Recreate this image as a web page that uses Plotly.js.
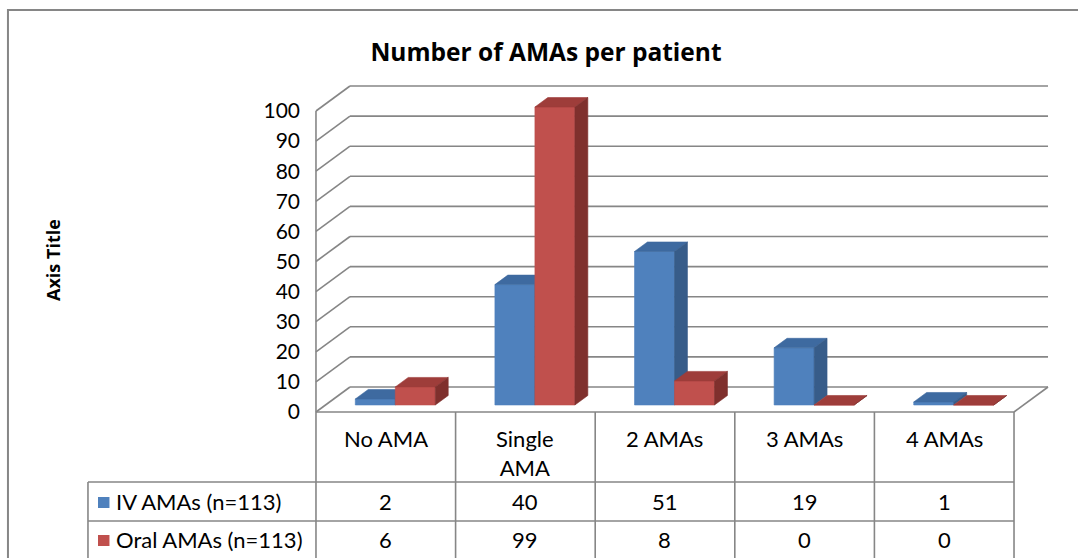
<!DOCTYPE html>
<html>
<head>
<meta charset="utf-8">
<script src="https://cdn.plot.ly/plotly-3.0.1.min.js"></script>
<style>
  html, body { margin: 0; padding: 0; background: #ffffff; }
  #chart { width: 1078px; height: 558px; }
</style>
</head>
<body>
<div id="chart"></div>
<script>
// ---------------- data ----------------
const categories = ['No AMA', 'Single AMA', '2 AMAs', '3 AMAs', '4 AMAs'];
const categoryLabels = ['No AMA', 'Single<br>AMA', '2 AMAs', '3 AMAs', '4 AMAs'];
const seriesNames = ['IV AMAs (n=113)', 'Oral AMAs (n=113)'];
const ivValues = [2, 40, 51, 19, 1];
const oralValues = [6, 99, 8, 0, 0];
const yTickValues = [0, 10, 20, 30, 40, 50, 60, 70, 80, 90, 100];
const chartTitle = 'Number of AMAs per patient';
const yAxisTitle = 'Axis Title';

// ---------------- style / geometry ----------------
const W = 1078, H = 558;
const FONT = 'Lato, "Open Sans", sans-serif';
const BOLD_FONT = '"Open Sans", Lato, sans-serif';
const GRID = '#868686';
const PXU_X = 139.6;          // px per category unit
const PXU_Y = 3.01;           // px per value unit
const DX = 34 / PXU_X;        // depth offset (x units)
const DY = 25 / PXU_Y;        // depth offset (y units)
const XMIN = -0.05, XMAX = categories.length + DX + 0.05;
const YMIN = -1, YMAX = 100 + DY + 1;
const FRONT_LEFT_PX = 316, FRONT_ZERO_PX = 412;
const mL = FRONT_LEFT_PX + XMIN * PXU_X;
const plotW = (XMAX - XMIN) * PXU_X;
const mR = W - mL - plotW;
const plotBottomPx = FRONT_ZERO_PX - YMIN * PXU_Y;
const mB = H - plotBottomPx;
const plotH = (YMAX - YMIN) * PXU_Y;
const mT = plotBottomPx - plotH;

const BAR_W = 40 / PXU_X;
const GAP_HALF = (1 - 2 * BAR_W) / 2;
const F0 = 0.28, F1 = 0.66;   // bar depth fractions

const COLORS = {
  iv:   { front: '#4F81BD', top: '#3E6AA0', side: '#375C89' },
  oral: { front: '#C0504D', top: '#9E3D3A', side: '#7F302D' }
};

function xToPaper(v) { return (v - XMIN) / (XMAX - XMIN); }
function pxToPaperX(px) { return (px - mL) / plotW; }
function pxToPaperY(px) { return (plotBottomPx - px) / plotH; }

// ---------------- bar faces ----------------
function faces(values, seriesIndex) {
  const fr = { x: [], y: [] }, tp = { x: [], y: [] }, sd = { x: [], y: [] };
  const fx0 = F0 * DX, fy0 = F0 * DY, fx1 = F1 * DX, fy1 = F1 * DY;
  values.forEach((v, i) => {
    const xl = i + GAP_HALF + seriesIndex * BAR_W;
    const xr = xl + BAR_W;
    fr.x.push(xl + fx0, xr + fx0, xr + fx0, xl + fx0, xl + fx0, null);
    fr.y.push(fy0, fy0, v + fy0, v + fy0, fy0, null);
    tp.x.push(xl + fx0, xr + fx0, xr + fx1, xl + fx1, xl + fx0, null);
    tp.y.push(v + fy0, v + fy0, v + fy1, v + fy1, v + fy0, null);
    sd.x.push(xr + fx0, xr + fx1, xr + fx1, xr + fx0, xr + fx0, null);
    sd.y.push(fy0, fy1, v + fy1, v + fy0, fy0, null);
  });
  return { fr, tp, sd };
}

function faceTrace(pts, color, name) {
  return {
    type: 'scatter', mode: 'lines', x: pts.x, y: pts.y,
    fill: 'toself', fillcolor: color,
    line: { color: color, width: 0.6 },
    hoverinfo: 'skip', showlegend: false, name: name
  };
}

const ivF = faces(ivValues, 0);
const oralF = faces(oralValues, 1);
const traces = [
  faceTrace(ivF.fr, COLORS.iv.front, seriesNames[0]),
  faceTrace(ivF.tp, COLORS.iv.top, seriesNames[0]),
  faceTrace(ivF.sd, COLORS.iv.side, seriesNames[0]),
  faceTrace(oralF.fr, COLORS.oral.front, seriesNames[1]),
  faceTrace(oralF.tp, COLORS.oral.top, seriesNames[1]),
  faceTrace(oralF.sd, COLORS.oral.side, seriesNames[1])
];

// ---------------- walls, grid ----------------
const shapes = [];
const N = categories.length;
function line(x0, y0, x1, y1, xref, yref, layer) {
  shapes.push({ type: 'line', x0, y0, x1, y1, xref, yref, layer: layer || 'below',
    line: { color: GRID, width: 1.6 } });
}
yTickValues.forEach(v => {
  line(DX, v + DY, N + DX, v + DY, 'x', 'y');   // back wall gridline
  line(0, v, DX, v + DY, 'x', 'y');             // left wall slant
});
line(0, 0, 0, 100, 'x', 'y');                  // left wall front edge
line(N, 0, N + DX, DY, 'x', 'y');              // floor right edge

// ---------------- data table ----------------
const T_HEAD_BOTTOM = 482, T_ROW1_BOTTOM = 521, T_BOTTOM = 600;
const LEGEND_LEFT_PX = 88;
const tl = (x0, y0, x1, y1) => shapes.push({ type: 'line', xref: 'paper', yref: 'paper',
  x0, y0, x1, y1, layer: 'above', line: { color: GRID, width: 1.6 } });
tl(xToPaper(0), pxToPaperY(FRONT_ZERO_PX), xToPaper(N), pxToPaperY(FRONT_ZERO_PX));
for (let i = 0; i <= N; i++) {
  tl(xToPaper(i), pxToPaperY(FRONT_ZERO_PX), xToPaper(i), pxToPaperY(T_BOTTOM));
}
tl(pxToPaperX(LEGEND_LEFT_PX), pxToPaperY(T_HEAD_BOTTOM), xToPaper(N), pxToPaperY(T_HEAD_BOTTOM));
tl(pxToPaperX(LEGEND_LEFT_PX), pxToPaperY(T_ROW1_BOTTOM), xToPaper(N), pxToPaperY(T_ROW1_BOTTOM));
tl(pxToPaperX(LEGEND_LEFT_PX), pxToPaperY(T_HEAD_BOTTOM), pxToPaperX(LEGEND_LEFT_PX), pxToPaperY(T_BOTTOM));

// legend keys
[[COLORS.iv.front, 497], [COLORS.oral.front, 535]].forEach(([c, top]) => {
  shapes.push({ type: 'rect', xref: 'paper', yref: 'paper',
    x0: pxToPaperX(98), x1: pxToPaperX(109.5), y0: pxToPaperY(top), y1: pxToPaperY(top + 11),
    fillcolor: c, line: { width: 0 }, layer: 'above' });
});

// chart outer border
shapes.push({ type: 'rect', xref: 'paper', yref: 'paper',
  x0: pxToPaperX(8), x1: pxToPaperX(1100), y0: pxToPaperY(10), y1: pxToPaperY(600),
  line: { color: GRID, width: 2 }, fillcolor: 'rgba(0,0,0,0)', layer: 'below' });

const annotations = [];
const TXT = { family: FONT, size: 22, color: '#000000' };
categoryLabels.forEach((lab, i) => {
  annotations.push({ xref: 'paper', yref: 'paper', x: xToPaper(i + 0.5), y: pxToPaperY(423),
    text: lab, showarrow: false, xanchor: 'center', yanchor: 'top', font: TXT, align: 'center' });
});
const rowCenters = [502, 540];
[ivValues, oralValues].forEach((vals, r) => {
  vals.forEach((v, i) => {
    annotations.push({ xref: 'paper', yref: 'paper', x: xToPaper(i + 0.5), y: pxToPaperY(rowCenters[r]),
      text: String(v), showarrow: false, xanchor: 'center', yanchor: 'middle', font: TXT });
  });
  annotations.push({ xref: 'paper', yref: 'paper', x: pxToPaperX(114), y: pxToPaperY(rowCenters[r]),
    text: seriesNames[r], showarrow: false, xanchor: 'left', yanchor: 'middle', font: TXT });
});
// y axis title (placed in the chart's left margin)
annotations.push({ xref: 'paper', yref: 'paper', x: pxToPaperX(53), y: pxToPaperY(260),
  text: '<b>' + yAxisTitle + '</b>', textangle: -90, showarrow: false,
  xanchor: 'center', yanchor: 'middle',
  font: { family: BOLD_FONT, size: 18, color: '#000000' } });

const layout = {
  width: W, height: H,
  paper_bgcolor: '#ffffff', plot_bgcolor: 'rgba(0,0,0,0)',
  margin: { l: mL, r: mR, t: mT, b: mB, pad: 0 },
  showlegend: false,
  title: { text: '<b>' + chartTitle + '</b>', x: 546 / W, xanchor: 'center', xref: 'container',
    y: 1 - 52 / H, yanchor: 'middle', yref: 'container',
    font: { family: BOLD_FONT, size: 24.5, color: '#000000' } },
  xaxis: { range: [XMIN, XMAX], visible: false, fixedrange: true },
  yaxis: { range: [YMIN, YMAX], tickvals: yTickValues, ticktext: yTickValues.map(String),
    showgrid: false, zeroline: false, showline: false, ticks: '', ticklabelstandoff: 8,
    tickfont: { family: FONT, size: 21, color: '#000000' }, fixedrange: true },
  shapes, annotations
};

Plotly.newPlot('chart', traces, layout, { staticPlot: true, displayModeBar: false });
</script>
</body>
</html>
